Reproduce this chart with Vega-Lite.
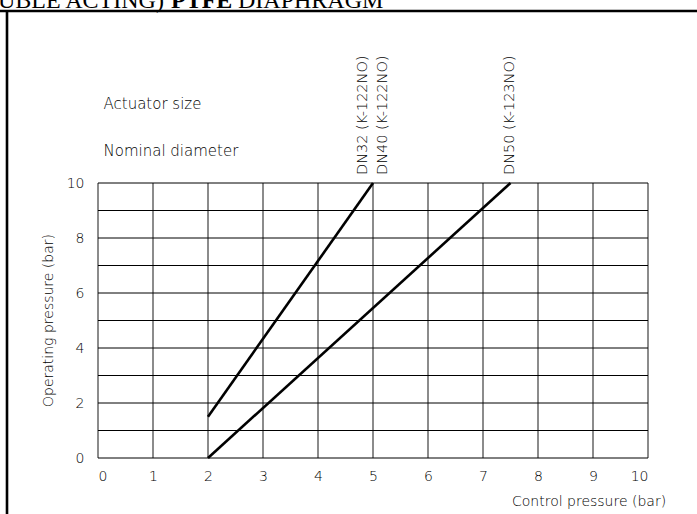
{
  "$schema": "https://vega.github.io/schema/vega-lite/v6.json",
  "width": 550,
  "height": 275,
  "autosize": {"type": "none"},
  "padding": {"left": 98, "top": 183, "right": 49, "bottom": 56},
  "background": "white",
  "config": {"view": {"stroke": null}, "font": "DejaVu Sans"},
  "datasets": {
    "gridx": [{"v": 0}, {"v": 1}, {"v": 2}, {"v": 3}, {"v": 4}, {"v": 5}, {"v": 6}, {"v": 7}, {"v": 8}, {"v": 9}, {"v": 10}],
    "curves": [
      {"series": "DN32/DN40", "control": 2, "operating": 1.5},
      {"series": "DN32/DN40", "control": 5, "operating": 10},
      {"series": "DN50", "control": 2, "operating": 0},
      {"series": "DN50", "control": 7.5, "operating": 10}
    ],
    "vlabels": [
      {"label": "DN32 (K-122NO)", "x": 4.82, "y": 10.29},
      {"label": "DN40 (K-122NO)", "x": 5.18, "y": 10.29},
      {"label": "DN50 (K-123NO)", "x": 7.49, "y": 10.29}
    ],
    "hlabels": [
      {"label": "Actuator size", "x": 0.1, "y": 12.87},
      {"label": "Nominal diameter", "x": 0.1, "y": 11.16}
    ],
    "frame": [
      {"part": "top", "x1": -1.782, "x2": 10.9, "y1": 16.255, "y2": 16.255},
      {"part": "left", "x1": -1.6545, "x2": -1.6545, "y1": 16.255, "y2": -2.05}
    ]
  },
  "layer": [
    {
      "data": {"name": "gridx"},
      "mark": {"type": "rule", "stroke": "#6e6e6e", "strokeWidth": 1.6},
      "encoding": {
        "x": {"field": "v", "type": "quantitative", "scale": {"domain": [0, 10], "nice": false},
          "axis": {"values": [0,1,2,3,4,5,6,7,8,9,10], "grid": false, "domain": false, "ticks": false, "title": null,
            "labelPadding": 11, "labelFontSize": 14, "labelColor": "#000", "labelFont": "DejaVu Sans", "labelFontWeight": 200}}
      }
    },
    {
      "data": {"name": "gridx"},
      "mark": {"type": "rule", "stroke": "#000", "strokeWidth": 1},
      "encoding": {
        "y": {"field": "v", "type": "quantitative", "scale": {"domain": [0, 10], "nice": false},
          "axis": {"values": [0,2,4,6,8,10], "grid": false, "domain": false, "ticks": false, "title": null,
            "labelPadding": 14, "labelFontSize": 14, "labelColor": "#000", "labelFont": "DejaVu Sans", "labelFontWeight": 200}}
      }
    },
    {
      "data": {"name": "curves"},
      "mark": {"type": "line", "stroke": "#000", "strokeWidth": 2.6, "clip": false},
      "encoding": {
        "x": {"field": "control", "type": "quantitative"},
        "y": {"field": "operating", "type": "quantitative"},
        "detail": {"field": "series"}
      }
    },
    {
      "data": {"name": "vlabels"},
      "mark": {"type": "text", "angle": 270, "align": "left", "baseline": "middle", "fontSize": 14.5, "fontWeight": 200, "font": "DejaVu Sans", "color": "#000", "clip": false},
      "encoding": {
        "x": {"field": "x", "type": "quantitative"},
        "y": {"field": "y", "type": "quantitative"},
        "text": {"field": "label"}
      }
    },
    {
      "data": {"name": "hlabels"},
      "mark": {"type": "text", "align": "left", "baseline": "middle", "fontSize": 15, "fontWeight": 200, "font": "DejaVu Sans", "color": "#000", "clip": false},
      "encoding": {
        "x": {"field": "x", "type": "quantitative"},
        "y": {"field": "y", "type": "quantitative"},
        "text": {"field": "label"}
      }
    },
    {
      "data": {"values": [{"label": "Operating pressure (bar)", "x": -0.89, "y": 5}]},
      "mark": {"type": "text", "angle": 270, "align": "center", "baseline": "middle", "fontSize": 14, "fontWeight": 200, "font": "DejaVu Sans", "color": "#000", "clip": false},
      "encoding": {
        "x": {"field": "x", "type": "quantitative"},
        "y": {"field": "y", "type": "quantitative"},
        "text": {"field": "label"}
      }
    },
    {
      "data": {"values": [{"label": "Control pressure (bar)", "x": 10.33, "y": -1.6}]},
      "mark": {"type": "text", "align": "right", "baseline": "middle", "fontSize": 14, "fontWeight": 200, "font": "DejaVu Sans", "color": "#000", "clip": false},
      "encoding": {
        "x": {"field": "x", "type": "quantitative"},
        "y": {"field": "y", "type": "quantitative"},
        "text": {"field": "label"}
      }
    },
    {
      "data": {"values": [
        {"label": "UBLE ACTING)", "x": -1.82, "y": 16.36},
        {"label": "DIAPHRAGM", "x": 2.545, "y": 16.36}
      ]},
      "mark": {"type": "text", "align": "left", "baseline": "alphabetic", "fontSize": 24, "font": "Liberation Serif", "color": "#000", "clip": false},
      "encoding": {
        "x": {"field": "x", "type": "quantitative"},
        "y": {"field": "y", "type": "quantitative"},
        "text": {"field": "label"}
      }
    },
    {
      "data": {"values": [{"label": "PTFE", "x": 1.327, "y": 16.36}]},
      "mark": {"type": "text", "align": "left", "baseline": "alphabetic", "fontSize": 24, "fontWeight": "bold", "font": "Liberation Serif", "color": "#000", "clip": false},
      "encoding": {
        "x": {"field": "x", "type": "quantitative"},
        "y": {"field": "y", "type": "quantitative"},
        "text": {"field": "label"}
      }
    },
    {
      "data": {"name": "frame"},
      "mark": {"type": "rule", "stroke": "#000", "strokeWidth": 2.6, "clip": false},
      "encoding": {
        "x": {"field": "x1", "type": "quantitative"},
        "x2": {"field": "x2"},
        "y": {"field": "y1", "type": "quantitative"},
        "y2": {"field": "y2"}
      }
    }
  ]
}
